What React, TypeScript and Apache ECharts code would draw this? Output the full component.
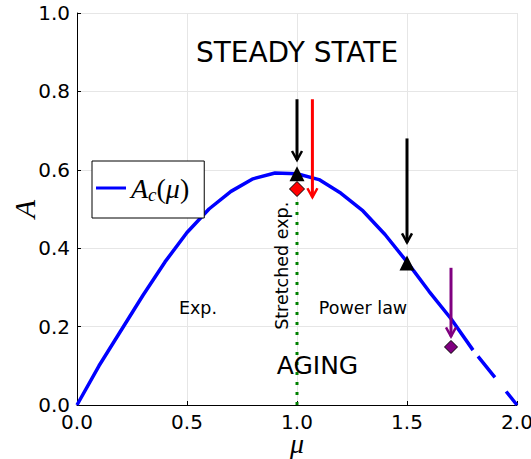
import React, { useEffect, useRef } from "react";
import * as echarts from "echarts";

// Critical amplitude curve A_c(mu)
const muValues = [0, 0.1, 0.2, 0.3, 0.4, 0.5, 0.6, 0.7, 0.8, 0.9, 1.0, 1.1, 1.2, 1.3, 1.4, 1.5, 1.6, 1.7, 1.8, 1.9, 2.0];
const acValues = [0, 0.1, 0.19, 0.28, 0.365, 0.44, 0.5, 0.545, 0.577, 0.592, 0.59, 0.575, 0.54, 0.495, 0.435, 0.365, 0.29, 0.22, 0.14, 0.07, 0];
const solidEndMu = 1.8;

// Markers
const triangleMu = [1.0, 1.5];
const triangleA = [0.59, 0.362];
const redDiamond = [1.0, 0.551];
const purpleDiamond = [1.7, 0.148];

// Vertical separator at mu = 1 (from A = 0 up to the red diamond)
const separatorMu = 1.0;

// Arrows: [mu, A start, A tip]
const blackArrows = [
  [1.0, 0.78, 0.625],
  [1.5, 0.68, 0.415],
];
const redArrows = [[1.07, 0.78, 0.53]];
const purpleArrows = [[1.7, 0.35, 0.175]];

// Region labels
const regionTexts = ["STEADY STATE", "AGING", "Exp.", "Power law", "Stretched exp."];
const regionMu = [1.0, 1.093, 0.55, 1.3, 0.93];
const regionA = [0.9, 0.1, 0.247, 0.247, 0.355];

const xTicks = [0, 0.5, 1.0, 1.5, 2.0];

const SANS = "DejaVu Sans";
const SERIF = "Liberation Serif";

function arrowSeries(data: number[][], color: string) {
  return {
    type: "custom",
    data,
    encode: { x: 0, y: [1, 2] },
    z: 6,
    silent: true,
    renderItem: (_p: any, api: any) => {
      const x = api.value(0);
      const a = api.coord([x, api.value(1)]);
      const b = api.coord([x, api.value(2)]);
      return {
        type: "group",
        children: [
          { type: "line", shape: { x1: a[0], y1: a[1], x2: b[0], y2: b[1] }, style: { stroke: color, lineWidth: 3 } },
          {
            type: "polyline",
            shape: { points: [[b[0] - 5, b[1] - 9], [b[0], b[1]], [b[0] + 5, b[1] - 9]] },
            style: { stroke: color, lineWidth: 2.5, fill: "none" },
          },
        ],
      };
    },
  };
}

export default function App() {
  const ref = useRef<HTMLDivElement>(null);

  useEffect(() => {
    if (!ref.current) return;
    const chart = echarts.init(ref.current, null, { renderer: "svg" });

    const curve = muValues.map((m, i) => [m, acValues[i]]);
    const solid = curve.filter((p) => p[0] <= solidEndMu + 1e-9);
    const dashed = curve.filter((p) => p[0] >= solidEndMu - 1e-9);
    const regionData = regionMu.map((m, i) => [m, regionA[i], i]);
    const regionSizes = [28, 25, 17.5, 17.5, 17.5];

    chart.setOption({
      animation: false,
      backgroundColor: "#fff",
      grid: { left: 77, right: 14, top: 13, bottom: 54, outerBoundsMode: "none" },
      legend: {
        data: [{ name: "Ac", icon: "rect" }],
        left: 92,
        top: 161,
        padding: [13, 15, 14, 4],
        borderColor: "#000",
        borderWidth: 1,
        borderRadius: 0,
        backgroundColor: "#fff",
        itemWidth: 30,
        itemHeight: 3,
        itemGap: 0,
        formatter: () => "{a|A}{c|c}{p|(}{a|μ}{p|)}",
        textStyle: {
          rich: {
            a: { fontFamily: SERIF, fontStyle: "italic", fontSize: 28, lineHeight: 32, color: "#000" },
            c: { fontFamily: SERIF, fontStyle: "italic", fontSize: 19, verticalAlign: "bottom", color: "#000" },
            p: { fontFamily: SERIF, fontSize: 28, lineHeight: 32, color: "#000" },
          },
        },
      },
      xAxis: {
        type: "value",
        min: 0,
        max: 2,
        interval: 0.5,
        name: "μ",
        nameLocation: "middle",
        nameGap: 24,
        nameMoveOverlap: false,
        nameTextStyle: { fontFamily: SERIF, fontStyle: "italic", fontSize: 28, color: "#000" },
        axisLine: { lineStyle: { color: "#000", width: 1 } },
        axisTick: { inside: true, length: 4, lineStyle: { color: "#000" } },
        axisLabel: {
          fontFamily: SANS,
          fontSize: 20,
          color: "#000",
          margin: 7,
          formatter: (v: number) => (xTicks.includes(v) ? v.toFixed(1) : ""),
        },
        splitLine: { show: true, lineStyle: { color: "#e6e6e6", width: 1 } },
      },
      yAxis: {
        type: "value",
        min: 0,
        max: 1,
        interval: 0.2,
        name: "A",
        nameLocation: "middle",
        nameGap: 38,
        nameMoveOverlap: false,
        nameRotate: 90,
        nameTextStyle: { fontFamily: SERIF, fontStyle: "italic", fontSize: 30, color: "#000" },
        axisLine: { show: true, lineStyle: { color: "#000", width: 1 } },
        axisTick: { show: true, inside: true, length: 4, lineStyle: { color: "#000" } },
        axisLabel: {
          fontFamily: SANS,
          fontSize: 20,
          color: "#000",
          margin: 7,
          formatter: (v: number) => v.toFixed(1),
        },
        splitLine: { show: true, lineStyle: { color: "#e6e6e6", width: 1 } },
      },
      series: [
        {
          name: "Ac",
          type: "line",
          data: solid,
          showSymbol: false,
          symbol: "none",
          lineStyle: { color: "#0000ff", width: 3.5 },
          itemStyle: { color: "#0000ff" },
          z: 3,
        },
        {
          name: "Ac tail",
          type: "line",
          data: dashed,
          showSymbol: false,
          symbol: "none",
          lineStyle: { color: "#0000ff", width: 3.5, type: [27, 18], dashOffset: 37 },
          z: 3,
        },
        {
          name: "separator",
          type: "line",
          data: [
            [separatorMu, 0],
            [separatorMu, redDiamond[1]],
          ],
          showSymbol: false,
          symbol: "none",
          lineStyle: { color: "#008000", width: 3, type: [3, 7], cap: "butt" },
          z: 4,
        },
        arrowSeries(blackArrows, "#000"),
        arrowSeries(redArrows, "#ff0000"),
        arrowSeries(purpleArrows, "#800080"),
        {
          name: "triangles",
          type: "scatter",
          data: triangleMu.map((m, i) => [m, triangleA[i]]),
          symbol: "triangle",
          symbolSize: 15,
          itemStyle: { color: "#000", opacity: 1 },
          z: 7,
        },
        {
          name: "red",
          type: "scatter",
          data: [redDiamond],
          symbol: "diamond",
          symbolSize: 15,
          itemStyle: { color: "#ff0000", borderColor: "#000", borderWidth: 1, opacity: 1 },
          z: 7,
        },
        {
          name: "purple",
          type: "scatter",
          data: [purpleDiamond],
          symbol: "diamond",
          symbolSize: 13,
          itemStyle: { color: "#800080", borderColor: "#000", borderWidth: 1, opacity: 1 },
          z: 7,
        },
        {
          type: "custom",
          data: regionData,
          encode: { x: 0, y: 1 },
          silent: true,
          z: 8,
          renderItem: (params: any, api: any) => {
            const i = params.dataIndex;
            const p = api.coord([api.value(0), api.value(1)]);
            return {
              type: "text",
              x: p[0],
              y: p[1],
              rotation: i === 4 ? Math.PI / 2 : 0,
              style: {
                text: regionTexts[i],
                fontFamily: SANS,
                fontSize: regionSizes[i],
                fill: "#000",
                align: "center",
                verticalAlign: "middle",
              },
            };
          },
        },
      ],
    });

    return () => chart.dispose();
  }, []);

  return <div ref={ref} style={{ width: 531, height: 459, position: "absolute", left: 0, top: 0 }} />;
}
